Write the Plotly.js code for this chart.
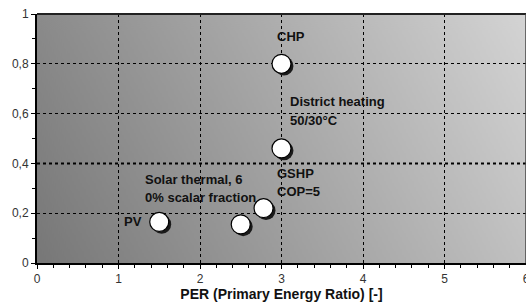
<!DOCTYPE html>
<html>
<head>
<meta charset="utf-8">
<script src="https://cdn.plot.ly/plotly-3.0.1.min.js"></script>
<style>html,body{margin:0;padding:0;background:#fff;}#chart{width:526px;height:307px;}</style>
</head>
<body>
<div id="chart"></div>
<script>
const technologies = ["CHP", "District heating 50/30°C", "GSHP COP=5", "Solar thermal, 60% scalar fraction", "PV"];
const perValues = [3.0, 3.0, 2.78, 2.5, 1.5];
const secondaryValues = [0.80, 0.46, 0.22, 0.155, 0.165];
const xTickVals = [0, 1, 2, 3, 4, 5, 6];
const yTickVals = [0, 0.2, 0.4, 0.6, 0.8, 1];

// gradient background
const cv = document.createElement('canvas');
cv.width = 490; cv.height = 250;
const ctx = cv.getContext('2d');
const g = ctx.createLinearGradient(0, cv.height, cv.width, 0);
g.addColorStop(0, '#777777');
g.addColorStop(1, '#d4d4d4');
ctx.fillStyle = g;
ctx.fillRect(0, 0, cv.width, cv.height);
const bgUrl = cv.toDataURL('image/png');

const shadow = {
  x: perValues.map(v => v + 0.03),
  y: secondaryValues.map(v => v - 0.009),
  mode: 'markers', type: 'scatter', hoverinfo: 'skip',
  marker: {size: 19, color: '#1a1a1a', line: {width: 0}}
};
const pts = {
  x: perValues, y: secondaryValues, text: technologies,
  mode: 'markers', type: 'scatter',
  marker: {size: 19, color: '#ffffff', line: {color: '#000000', width: 1.2}}
};

const af = {family: 'Liberation Sans, Arial, sans-serif', size: 13, color: '#111'};
function ann(x, y, t) {
  return {x: x, y: y, xref: 'x', yref: 'y', text: '<b>' + t + '</b>', showarrow: false,
          xanchor: 'left', yanchor: 'middle', font: af};
}

const layout = {
  width: 526, height: 307,
  margin: {l: 37, r: 0, t: 14, b: 44},
  paper_bgcolor: '#ffffff',
  plot_bgcolor: 'rgba(0,0,0,0)',
  separators: ',.',
  showlegend: false,
  font: {family: 'Liberation Sans, Arial, sans-serif', size: 12, color: '#333'},
  images: [{source: bgUrl, xref: 'paper', yref: 'paper', x: 0, y: 1, sizex: 1, sizey: 1,
            sizing: 'stretch', layer: 'below', xanchor: 'left', yanchor: 'top'}],
  xaxis: {
    range: [0, 6], tickvals: xTickVals, ticks: 'outside', ticklen: 4, tickcolor: '#000',
    ticklabeloverflow: 'allow',
    showline: true, linecolor: '#000', linewidth: 2, mirror: false,
    showgrid: true, gridcolor: '#000', griddash: 'dot', gridwidth: 1,
    zeroline: false,
    minor: {dtick: 0.2, ticks: 'outside', ticklen: 3, tickcolor: '#000', showgrid: false},
    tickfont: {size: 12, color: '#333'},
    title: {text: '<b>PER (Primary Energy Ratio) [-]</b>', font: {size: 14, color: '#111'}, standoff: 4}
  },
  yaxis: {
    range: [0, 1], tickvals: yTickVals, ticks: 'outside', ticklen: 4, tickcolor: '#000',
    showline: true, linecolor: '#000', linewidth: 2,
    showgrid: true, gridcolor: '#000', griddash: 'dot', gridwidth: 1,
    zeroline: false,
    minor: {dtick: 0.1, ticks: 'outside', ticklen: 3, tickcolor: '#000', showgrid: false},
    tickfont: {size: 12, color: '#333'}
  },
  shapes: [
    {type: 'line', xref: 'paper', yref: 'paper', x0: 0, x1: 1, y0: 1, y1: 1, line: {color: '#222', width: 2}},
    {type: 'line', xref: 'paper', yref: 'paper', x0: 1, x1: 1, y0: 0, y1: 1, line: {color: '#444', width: 1.5}},
    {type: 'line', xref: 'paper', yref: 'y', x0: 0, x1: 1, y0: 0.4, y1: 0.4, line: {color: '#000', width: 2, dash: 'dot'}, layer: 'below'}
  ],
  annotations: [
    ann(2.92, 0.908, 'CHP'),
    ann(3.08, 0.648, 'District heating'),
    ann(3.08, 0.572, '50/30°C'),
    ann(2.92, 0.36, 'GSHP'),
    ann(2.92, 0.288, 'COP=5'),
    ann(1.30, 0.336, 'Solar thermal, 6'),
    ann(1.30, 0.264, '0% scalar fraction'),
    ann(1.04, 0.168, 'PV')
  ]
};

Plotly.newPlot('chart', [shadow, pts], layout, {displayModeBar: false, staticPlot: true});
</script>
</body>
</html>
